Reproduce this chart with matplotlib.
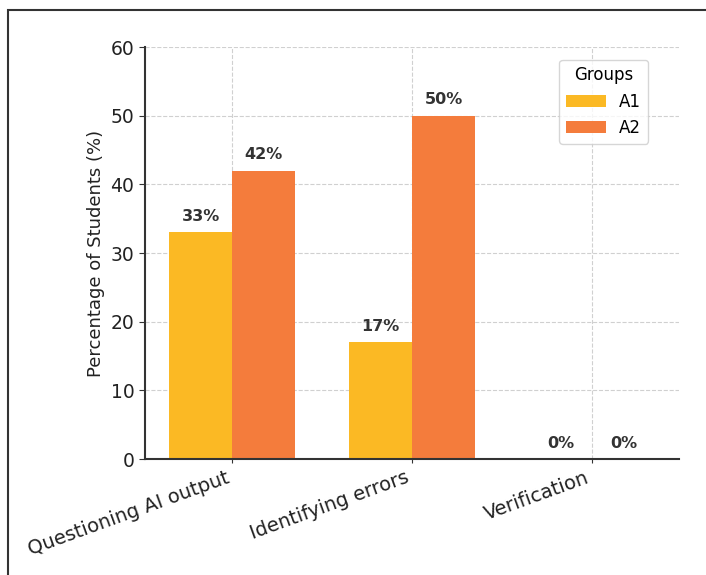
import matplotlib.pyplot as plt
import numpy as np
from matplotlib.patches import Rectangle

categories = ['Questioning AI output', 'Identifying errors', 'Verification']
groups = ['A1', 'A2']
a1_values = [33, 17, 0]
a2_values = [42, 50, 0]
colors = ['#FBB924', '#F47C3C']

fig = plt.figure(figsize=(7.06, 5.75), dpi=100)
ax = fig.add_axes([0.205, 0.2017, 0.757, 0.7163])

x = np.arange(len(categories))
w = 0.35
bars1 = ax.bar(x - w / 2, a1_values, w, color=colors[0], label=groups[0], zorder=2)
bars2 = ax.bar(x + w / 2, a2_values, w, color=colors[1], label=groups[1], zorder=2)

# labels on top of bars
for bars in (bars1, bars2):
    for b in bars:
        h = b.get_height()
        ax.annotate('%d%%' % h, (b.get_x() + b.get_width() / 2, h),
                    xytext=(0, 6), textcoords='offset points',
                    ha='center', va='bottom', fontsize=11.5, fontweight='bold',
                    color='#333333')

ax.set_ylim(0, 60)
ax.set_yticks(range(0, 61, 10))
ax.set_xticks(x)
ax.set_xticklabels(categories, rotation=20, ha='right', fontsize=14, color='#222222')
ax.tick_params(axis='y', labelsize=13.5, labelcolor='#222222', length=4, color='#333333')
ax.tick_params(axis='x', length=3, color='#333333')
ax.set_ylabel('Percentage of Students (%)', fontsize=13, color='#222222')

ax.grid(True, linestyle='--', color='#d0d0d0', linewidth=0.8, zorder=0)
ax.set_axisbelow(True)
for s in ('top', 'right'):
    ax.spines[s].set_visible(False)
for s in ('left', 'bottom'):
    ax.spines[s].set_color('#333333')
    ax.spines[s].set_linewidth(1.5)

leg = ax.legend(title='Groups', loc='upper right', fontsize=12, title_fontsize=12,
                bbox_to_anchor=(0.957, 0.99), frameon=True, handlelength=2.4)
leg.get_frame().set_edgecolor('#cccccc')

# screenshot frame
fig.patches.append(Rectangle((8 / 706, -0.1), 1.2, 1 - 10 / 575 + 0.1,
                             transform=fig.transFigure, fill=False,
                             edgecolor='#333333', linewidth=1.5))

fig.savefig('out.png', dpi=100)
